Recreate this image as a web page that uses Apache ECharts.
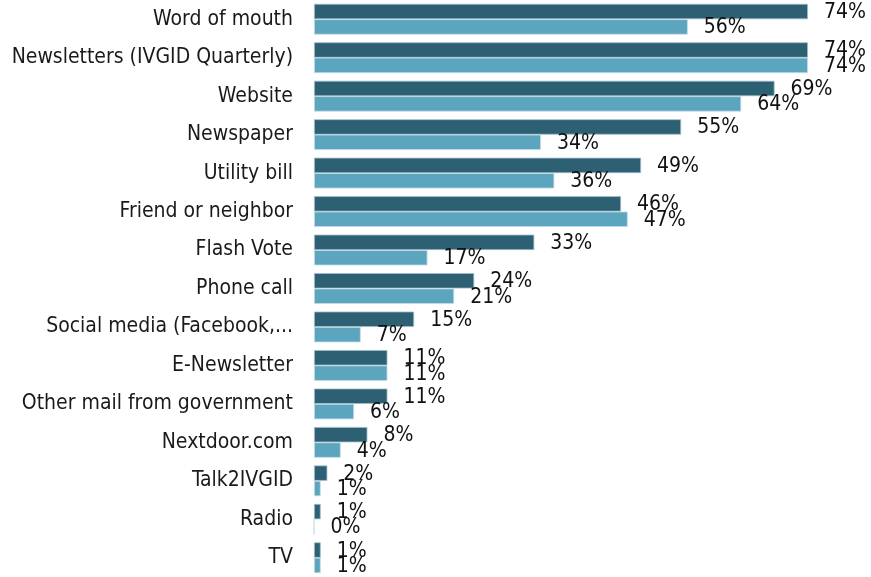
<!DOCTYPE html>
<html>
<head>
<meta charset="utf-8">
<style>
  html, body { margin: 0; padding: 0; background: #ffffff; }
  #chart { width: 871px; height: 577px; }
</style>
<script src="https://cdn.jsdelivr.net/npm/echarts@6/dist/echarts.min.js"></script>
</head>
<body>
<div id="chart"></div>
<script>
// Information sources, top to bottom
const categories = [
  'Word of mouth',
  'Newsletters (IVGID Quarterly)',
  'Website',
  'Newspaper',
  'Utility bill',
  'Friend or neighbor',
  'Flash Vote',
  'Phone call',
  'Social media (Facebook,...',
  'E-Newsletter',
  'Other mail from government',
  'Nextdoor.com',
  'Talk2IVGID',
  'Radio',
  'TV'
];

// Percent of respondents, first (dark) series
const seriesA = [74, 74, 69, 55, 49, 46, 33, 24, 15, 11, 11, 8, 2, 1, 1];
// Percent of respondents, second (light) series
const seriesB = [56, 74, 64, 34, 36, 47, 17, 21, 7, 11, 6, 4, 1, 0, 1];

const FONT = '"DejaVu Sans Condensed", "DejaVu Sans", sans-serif';

function valueLabel() {
  return {
    show: true,
    position: 'right',
    distance: 16,
    offset: [0, 1],
    formatter: '{c}%',
    color: '#111111',
    fontFamily: FONT,
    fontSize: 21
  };
}

const chart = echarts.init(document.getElementById('chart'), null, { renderer: 'canvas' });

chart.setOption({
  animation: false,
  backgroundColor: '#ffffff',
  grid: { left: 314, right: 23, top: -0.5, bottom: -2, containLabel: false },
  xAxis: {
    type: 'value',
    min: 0,
    max: 80,
    show: false
  },
  yAxis: {
    type: 'category',
    data: categories,
    inverse: true,
    axisLine: { show: false },
    axisTick: { show: false },
    splitLine: { show: false },
    axisLabel: {
      margin: 21,
      color: '#1a1a1a',
      fontFamily: FONT,
      fontSize: 21
    }
  },
  series: [
    {
      type: 'bar',
      data: seriesA,
      barWidth: '40%',
      barGap: '0%',
      barCategoryGap: '20%',
      itemStyle: { color: '#2E6073', borderColor: '#9fbccb', borderWidth: 0.8 },
      label: valueLabel()
    },
    {
      type: 'bar',
      data: seriesB,
      barWidth: '40%',
      barGap: '0%',
      barCategoryGap: '20%',
      itemStyle: { color: '#5BA5BF', borderColor: '#c5dde6', borderWidth: 0.8 },
      label: valueLabel()
    }
  ]
});
</script>
</body>
</html>
